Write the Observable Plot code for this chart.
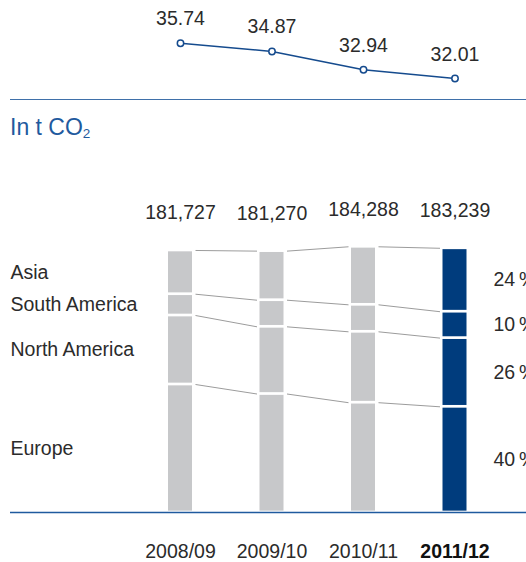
<!DOCTYPE html>
<html>
<head>
<meta charset="utf-8">
<script src="https://cdn.jsdelivr.net/npm/d3@7"></script>
<script src="https://cdn.jsdelivr.net/npm/@observablehq/plot@0.6"></script>
<style>
  html, body { margin: 0; padding: 0; background: #fff; overflow: hidden; }
  #wrap { position: relative; width: 526px; height: 562px; font-family: "Liberation Sans", Arial, sans-serif; }
  #topchart { position: absolute; left: 0; top: 0; }
  #sep { position: absolute; left: 10px; right: 0; top: 98.5px; border-top: 1.3px solid #3f70a9; }
  #unit { position: absolute; left: 10px; top: 115.5px; font-size: 23px; line-height: 23px; color: #1f5a9e; white-space: nowrap; }
  #unit sub { font-size: 13.5px; vertical-align: -3px; line-height: 0; }
  #bottomchart { position: absolute; left: 0; top: 140px; }
</style>
</head>
<body>
<div id="wrap">
  <div id="topchart"></div>
  <div id="sep"></div>
  <div id="unit">In t CO<sub>2</sub></div>
  <div id="bottomchart"></div>
</div>
<script>
// ---- data ----
const years = ["2008/09", "2009/10", "2010/11", "2011/12"];
const intensity = [35.74, 34.87, 32.94, 32.01];
const totals = [181727, 181270, 184288, 183239];
const regions = ["Europe", "North America", "South America", "Asia"]; // bottom to top
const europe = [88770, 82180, 76150, 73300];
const northAmerica = [47850, 46600, 49170, 47640];
const southAmerica = [14770, 18450, 18720, 18320];
const asia = [30337, 34040, 40248, 43979];

// ---- styling constants ----
const FONT = "Liberation Sans, Arial, sans-serif";
const TEXT = "#2b2b2b";
const BLUE = "#003c7d";
const GRAY = "#c7c8ca";
const LINEBLUE = "#154b8e";
const xDomain = [0, 3];
const xRange = [180, 454.5];
const pxPerUnit = (xRange[1] - xRange[0]) / (xDomain[1] - xDomain[0]);
const hw = 12 / pxPerUnit;      // half bar width
const gap = 3 / pxPerUnit;      // gap between bar and connector

// ---- top line chart ----
const lineData = years.map((y, i) => ({i, year: y, value: intensity[i]}));
const topChart = Plot.plot({
  width: 526, height: 100,
  marginLeft: 10, marginRight: 0, marginTop: 0, marginBottom: 0,
  style: {fontFamily: FONT, background: "transparent"},
  x: {domain: xDomain, range: xRange, axis: null},
  y: {domain: [32.01, 35.74], range: [78, 42.7], axis: null},
  marks: [
    Plot.line(lineData, {x: "i", y: "value", stroke: LINEBLUE, strokeWidth: 1.6}),
    Plot.dot(lineData, {x: "i", y: "value", r: 3.2, fill: "white", stroke: LINEBLUE, strokeWidth: 1.5}),
    Plot.text(lineData, {x: "i", y: "value", text: d => d.value.toFixed(2), dy: -18, lineAnchor: "bottom", fontSize: 19.5, fill: TEXT})
  ]
});
document.getElementById("topchart").appendChild(topChart);

// ---- bottom stacked bars ----
const series = [europe, northAmerica, southAmerica, asia];
const segments = [];
const cum = years.map(() => [0]);
years.forEach((y, i) => {
  let acc = 0;
  series.forEach((s, k) => {
    const y1 = acc; acc += s[i];
    segments.push({i, year: y, region: regions[k], value: s[i], y1, y2: acc, share: s[i] / totals[i]});
    cum[i].push(acc);
  });
});
const links = [];
for (let i = 0; i < years.length - 1; i++) {
  for (let k = 1; k <= series.length; k++) {
    links.push({x1: i + hw + gap, x2: i + 1 - hw - gap, y1: cum[i][k], y2: cum[i + 1][k]});
  }
}
const totalData = years.map((y, i) => ({i, year: y, total: totals[i]}));
const last = years.length - 1;
const fmt = d3.format(",");

const bottomChart = Plot.plot({
  width: 526, height: 422,
  marginLeft: 10, marginRight: 0, marginTop: 0, marginBottom: 50,
  style: {fontFamily: FONT, background: "transparent", overflow: "hidden"},
  x: {domain: xDomain, range: xRange, axis: null},
  y: {domain: [0, 258000], axis: null},
  marks: [
    Plot.rect(segments, {x1: d => d.i - hw, x2: d => d.i + hw, y1: "y1", y2: "y2",
      fill: d => d.i === last ? BLUE : GRAY, insetTop: 1.35, insetBottom: 1.35}),
    Plot.link(links, {x1: "x1", x2: "x2", y1: "y1", y2: "y2", stroke: "#9c9c9c", strokeWidth: 1}),
    Plot.ruleY([0], {stroke: "#1f5a9e", strokeWidth: 1.3}),
    Plot.text(totalData, {x: "i", y: "total", text: d => fmt(d.total), dy: -31, lineAnchor: "bottom", fontSize: 19.5, fill: TEXT}),
    Plot.text(segments.filter(d => d.i === 0), {frameAnchor: "left", y: d => (d.y1 + d.y2) / 2, text: "region",
      textAnchor: "start", lineAnchor: "middle", fontSize: 19.5, fill: TEXT}),
    Plot.text(segments.filter(d => d.i === last), {x: "i", y: d => (d.y1 + d.y2) / 2, text: d => Math.round(d.share * 100) + "\u2009%",
      dx: 38.5, textAnchor: "start", lineAnchor: "middle", fontSize: 19.5, fill: TEXT}),
    Plot.text(totalData.filter(d => d.i !== last), {x: "i", y: 0, text: "year", dy: 45, lineAnchor: "bottom", fontSize: 19.5, fill: TEXT}),
    Plot.text(totalData.filter(d => d.i === last), {x: "i", y: 0, text: "year", dy: 45, lineAnchor: "bottom", fontSize: 19.5, fontWeight: "bold", fill: "#111"})
  ]
});
document.getElementById("bottomchart").appendChild(bottomChart);
</script>
</body>
</html>
